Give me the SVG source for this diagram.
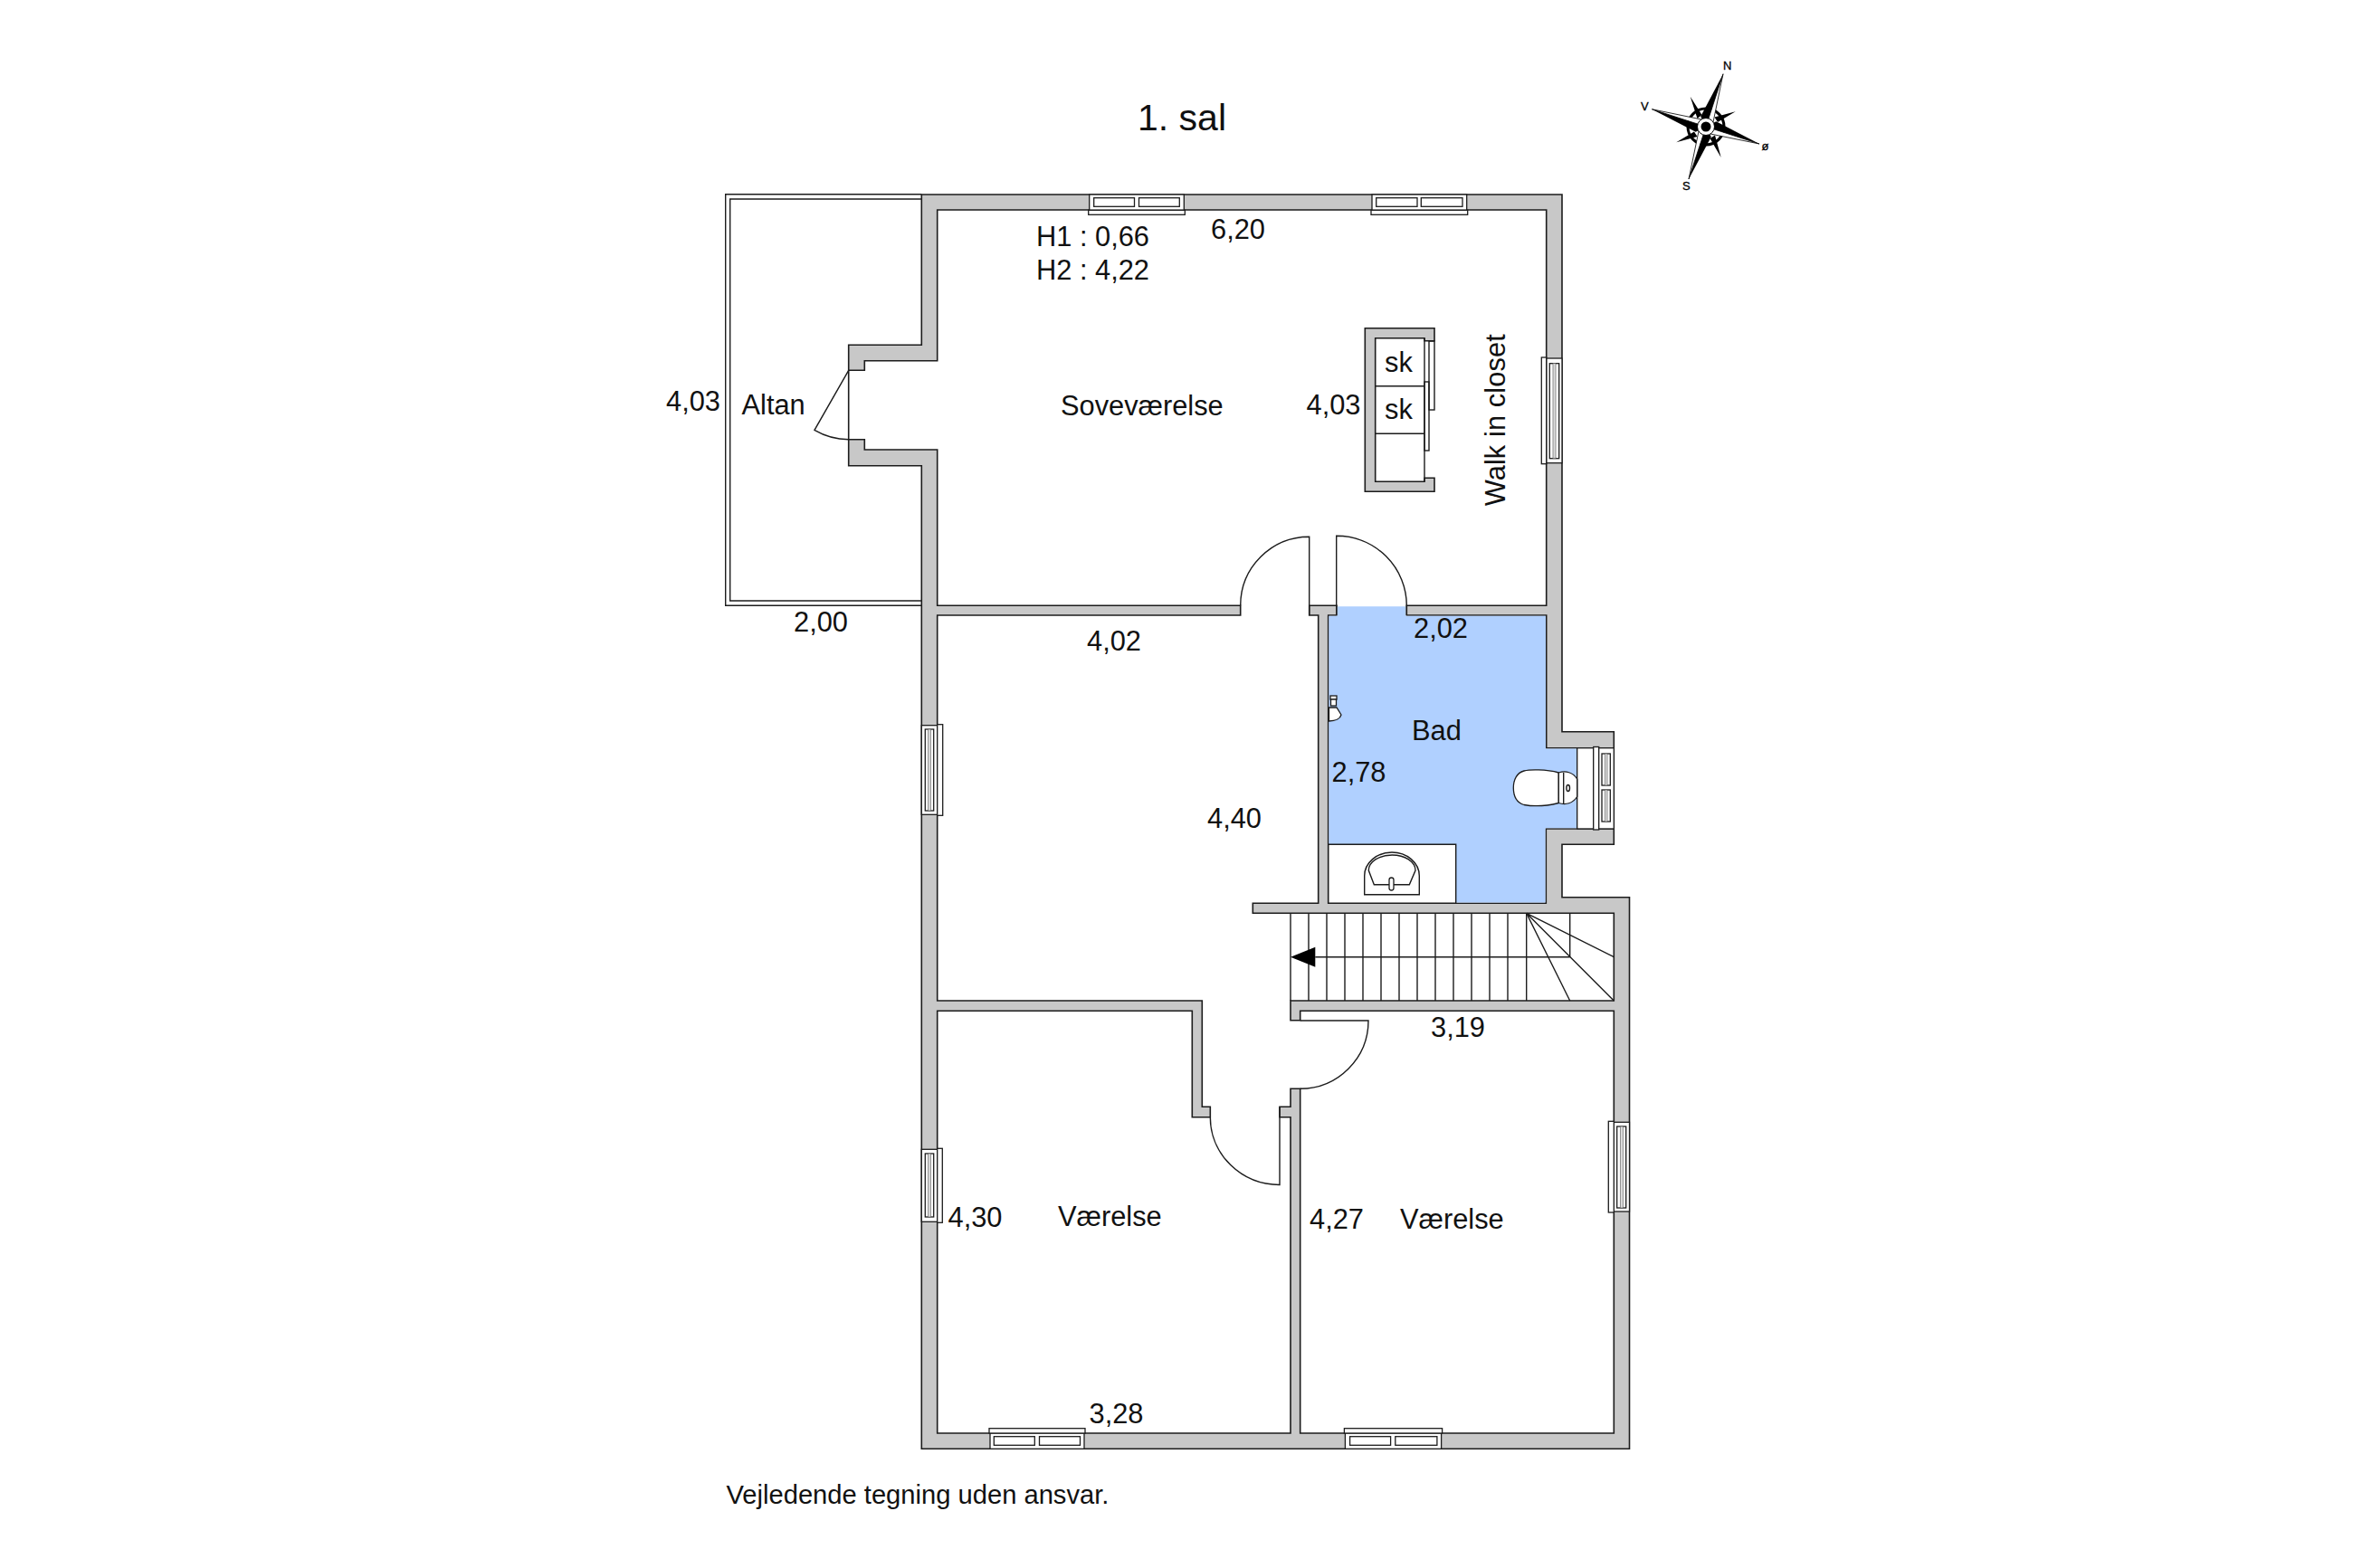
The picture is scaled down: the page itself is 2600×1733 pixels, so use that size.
<svg xmlns="http://www.w3.org/2000/svg" width="2600" height="1733" viewBox="0 0 2600 1733">
<style>
text{font-family:"Liberation Sans",Arial,sans-serif;font-size:30.800px;fill:#111}
.wall{fill:#c8c8c8;fill-rule:evenodd;stroke:#1c1c1c;stroke-width:1.600;stroke-linejoin:miter}
.ln{fill:none;stroke:#1c1c1c;stroke-width:1.400}
.w{fill:#fff;stroke:#1c1c1c;stroke-width:1.300}
.g{fill:#ddd;stroke:#666;stroke-width:.700}
.k{fill:#000;stroke:none}
.c{font-size:13px;fill:#000;stroke:#000;stroke-width:.300}
</style>
<rect width="2600" height="1733" fill="#fff"/>
<text id="title" x="1257" y="143.500" style="font-size:41px">1. sal</text>

<g id="compass">
<circle cx="1885" cy="140" r="20" fill="none" stroke="#000" stroke-width="3"/>
<path class="k" d="M1867.700 106.700L1880.500 127L1875.500 131Z M1917.700 123.300L1898 135L1894.500 129.500Z M1901.700 174L1889.500 153L1895 149.500Z M1852.300 157.300L1872 145.500L1875.500 151Z"/>
<path d="M1904 81.700L1893 135L1885 140Z" fill="#fff" stroke="#000" stroke-width=".800"/>
<path class="k" d="M1904 81.700L1879.200 128.700L1885 140Z"/>
<path d="M1944 159L1890 148L1885 140Z" fill="#fff" stroke="#000" stroke-width=".800"/>
<path class="k" d="M1944 159L1896.300 134.200L1885 140Z"/>
<path d="M1866 198L1877 145L1885 140Z" fill="#fff" stroke="#000" stroke-width=".800"/>
<path class="k" d="M1866 198L1890.800 151.300L1885 140Z"/>
<path d="M1825.300 120.700L1880 132L1885 140Z" fill="#fff" stroke="#000" stroke-width=".800"/>
<path class="k" d="M1825.300 120.700L1873.700 145.800L1885 140Z"/>
<circle cx="1885" cy="140" r="9.500" fill="#fff" stroke="#000" stroke-width="1"/>
<circle cx="1885" cy="140" r="5.500" fill="#000"/>
<text class="c" x="1904" y="76.500">N</text>
<text class="c" x="1813" y="122">V</text>
<text class="c" x="1946.500" y="165.500">ø</text>
<text class="c" x="1859" y="210">S</text>
</g>

<g id="altan">
<path class="ln" d="M1018.300 214.700H801.700V669.300H1018.300"/>
<path class="ln" d="M1018.300 220H806.700V664H1018.300"/>
</g>

<g id="walls">
<path class="wall" d="M1018.300 215H1726V808.700H1783.300V933.300H1726V991.700H1800.500V1601.300H1018.300V514.700H937.700V381.300H1018.300Z
M1035.700 232H1708.700V669.300H1554.300V680H1708.700V826.700H1783.300V916H1708.300V998.300H1467.700V680H1477V669.300H1446.700V680H1456.700V998.300H1384.300V1009.300H1783.300V1106H1426V1127.700H1436.700V1117.300H1783.300V1584H1436.700V1203.300H1426V1223.300H1414V1234.700H1426V1584H1035.700V1117.300H1317.300V1234.700H1337.300V1223.300H1328.300V1106H1035.700V680H1370.700V669.300H1035.700V497H955.300V485.700H937.700V409.300H955.300V398.700H1035.700Z"/>
</g>

<g id="bad">
<path fill="#b0d0ff" stroke="none" d="M1477.700 670.200H1553.300V680.700H1708V827.400H1742.700V915.300H1707.600V997.600H1608.700V933.300H1468.400V680.700H1477.700Z"/>
<path class="ln" d="M1467.700 933.300H1608.700V998.300"/>
<path class="ln" d="M1742.700 826.700V916"/>
</g>

<g id="closet">
<path class="wall" d="M1508.300 362.700H1585V376.700H1574V373.700H1519.700V532.300H1574V528.300H1585V543.300H1508.300Z"/>
<path class="ln" d="M1574 373.700V532.300M1519.700 426.700H1574M1519.700 479.300H1574"/>
<rect class="ln" x="1579" y="377" width="6" height="76"/>
<rect class="ln" x="1574" y="422" width="5" height="76"/>
</g>

<g id="windows">
<g id="win-top-1"><rect class="w" x="1203.700" y="215" width="104.600" height="17.300"/><rect class="w" x="1202.700" y="232.300" width="106.600" height="5"/><rect class="w" x="1208.700" y="218.700" width="44.800" height="9.600"/><rect class="w" x="1258.500" y="218.700" width="44.800" height="9.600"/></g>
<g id="win-top-2"><rect class="w" x="1516" y="215" width="104.700" height="17.300"/><rect class="w" x="1515" y="232.300" width="106.700" height="5"/><rect class="w" x="1520.700" y="218.700" width="45.300" height="9.600"/><rect class="w" x="1570.300" y="218.700" width="45.700" height="9.600"/></g>
<g id="win-bottom-1"><rect class="w" x="1094" y="1584" width="104" height="17.300"/><rect class="w" x="1093" y="1578.700" width="106" height="5.300"/><rect class="w" x="1098.300" y="1587.700" width="45" height="9.600"/><rect class="w" x="1148.500" y="1587.700" width="45" height="9.600"/></g>
<g id="win-bottom-2"><rect class="w" x="1486.400" y="1584" width="106.200" height="17.300"/><rect class="w" x="1485.400" y="1578.700" width="108.200" height="5.300"/><rect class="w" x="1491.600" y="1587.700" width="45" height="9.600"/><rect class="w" x="1541.800" y="1587.700" width="46.100" height="9.600"/></g>
<g id="win-right-1"><rect class="w" x="1708.700" y="396" width="17.300" height="115.700"/><rect class="w" x="1703.300" y="395" width="5.400" height="117.700"/><rect class="w" x="1712.300" y="401.700" width="10.400" height="105"/><rect class="g" x="1716" y="401.700" width="3" height="105"/></g>
<g id="win-right-2"><rect class="w" x="1783.300" y="1240.300" width="17.200" height="98.700"/><rect class="w" x="1777.300" y="1239.300" width="6" height="100.700"/><rect class="w" x="1786.700" y="1245" width="10" height="90"/><rect class="g" x="1790.300" y="1245" width="3" height="90"/></g>
<g id="win-left-1"><rect class="w" x="1018.300" y="801.700" width="17.400" height="98.600"/><rect class="w" x="1035.700" y="800.700" width="6" height="100.600"/><rect class="w" x="1022.300" y="806" width="9.400" height="90"/><rect class="g" x="1025.700" y="806" width="2.600" height="90"/></g>
<g id="win-left-2"><rect class="w" x="1018.300" y="1270.300" width="17.400" height="80"/><rect class="w" x="1035.700" y="1269.300" width="5.600" height="82"/><rect class="w" x="1022.300" y="1275" width="9.400" height="70"/><rect class="g" x="1025.700" y="1275" width="2.600" height="70"/></g>
<g id="win-bad"><rect class="w" x="1742.700" y="826.700" width="18" height="89.300"/><rect class="w" x="1760.700" y="825.500" width="6" height="91.500"/><rect class="w" x="1766.700" y="826.700" width="16.600" height="89.300"/><rect class="w" x="1770" y="833" width="9.300" height="35"/><rect class="w" x="1770" y="873" width="9.300" height="35"/><rect class="g" x="1773.300" y="833" width="2.700" height="35"/><rect class="g" x="1773.300" y="873" width="2.700" height="35"/></g>
</g>

<g id="doors">
<path class="ln" d="M1370.700 669.300A76 76 0 0 1 1446.700 593.300V680"/>
<path class="ln" d="M1476.700 680V592.300A77.600 77 0 0 1 1554.300 669.300V680"/>
<path class="ln" d="M1414 1223.300V1309.500A76.700 74.800 0 0 1 1337.300 1234.700"/>
<path class="ln" d="M1436.700 1128H1512A75.300 75.300 0 0 1 1436.700 1203.300"/>
<path class="ln" d="M937.700 409.300L900 475.300A76.400 76.400 0 0 0 937.700 485.700"/>
</g>

<g id="stairs">
<path class="ln" d="M1426 1009.300V1106M1446 1009.300V1106M1466 1009.300V1106M1486 1009.300V1106M1506 1009.300V1106M1526 1009.300V1106M1546 1009.300V1106M1566 1009.300V1106M1586 1009.300V1106M1606 1009.300V1106M1626 1009.300V1106M1646 1009.300V1106M1666 1009.300V1106M1686.700 1009.300V1106M1734.700 1009.300V1057.700"/>
<path class="ln" d="M1686.700 1009.300L1783.300 1057.700M1686.700 1009.300L1783.300 1106M1686.700 1009.300L1734.700 1106"/>
<path class="ln" d="M1453.300 1057.700H1734.700"/>
<path class="k" d="M1426 1057.700L1453.300 1046.700V1068.700Z"/>
</g>

<g id="fixtures">
<g id="sink">
<path class="ln" d="M1507.700 988.700V968A30.300 26 0 0 1 1568.300 968V988.700Z"/>
<path class="ln" d="M1518.300 977.700L1512.300 962A25.800 17 0 0 1 1564 962L1557.300 977.700Z"/>
<rect class="w" x="1535" y="970" width="5" height="14" rx="2.500"/>
</g>
<g id="toilet">
<path class="w" d="M1722.300 854C1708 850 1690 850.500 1684 852C1676 854 1672.300 862 1672.300 870.700C1672.300 880 1676 887 1684 889.500C1695 891.500 1710 890.500 1722.300 887.500Z"/>
<path class="w" d="M1722.300 854C1730 851.500 1738 853.500 1742.700 861V880.500C1738 888 1730 890 1722.300 887.500Z"/>
<path class="ln" d="M1727.700 854V888"/>
<ellipse class="ln" cx="1732.700" cy="871" rx="1.800" ry="3.500"/>
</g>
<g id="tap">
<rect class="w" x="1470" y="769" width="7" height="4" stroke-width="1"/>
<rect class="w" x="1470.500" y="773" width="6" height="7" stroke-width="1"/>
<path class="w" stroke-width="1" d="M1468.500 782H1477L1482 790C1481 794 1476 797 1468.500 797Z"/>
</g>
</g>

<g id="labels">
<text x="1145" y="271.700">H1 : 0,66</text>
<text x="1145" y="309">H2 : 4,22</text>
<text x="1338" y="264">6,20</text>
<text x="1172" y="459.300">Soveværelse</text>
<text x="819.500" y="458">Altan</text>
<text x="736" y="454">4,03</text>
<text x="877" y="697.700">2,00</text>
<text x="1443.500" y="458">4,03</text>
<text x="1530" y="410.700">sk</text>
<text x="1530" y="462.700">sk</text>
<text transform="translate(1662.700 559.300) rotate(-90)" textLength="190">Walk in closet</text>
<text x="1562" y="705">2,02</text>
<text x="1560" y="818.300">Bad</text>
<text x="1471.500" y="864">2,78</text>
<text x="1334" y="915">4,40</text>
<text x="1201" y="719">4,02</text>
<text x="1581" y="1146">3,19</text>
<text x="1447" y="1358.300">4,27</text>
<text x="1547" y="1358.300">Værelse</text>
<text x="1047.500" y="1355.700">4,30</text>
<text x="1169" y="1355">Værelse</text>
<text x="1203.500" y="1573.300">3,28</text>
<text x="802.500" y="1661.500" style="font-size:29.150px">Vejledende tegning uden ansvar.</text>
</g>
</svg>
